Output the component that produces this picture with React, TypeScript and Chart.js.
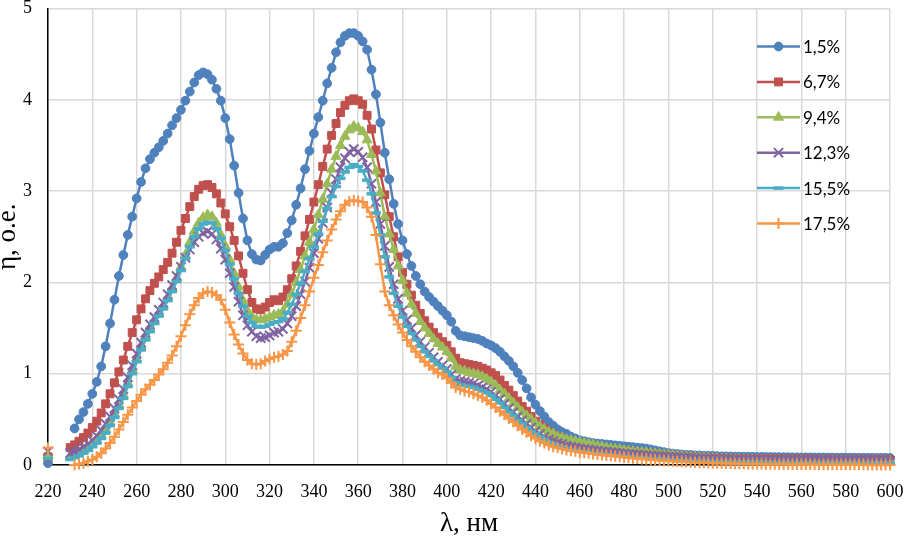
import { useEffect, useRef } from "react";
import { Chart, registerables } from "chart.js";
import { drawPoint } from "chart.js/helpers";

Chart.register(...registerables);

// wavelength, nm (step 2 nm)
const WAVELENGTHS = [
  220, 222, 224, 226, 228, 230, 232, 234, 236, 238,
  240, 242, 244, 246, 248, 250, 252, 254, 256, 258,
  260, 262, 264, 266, 268, 270, 272, 274, 276, 278,
  280, 282, 284, 286, 288, 290, 292, 294, 296, 298,
  300, 302, 304, 306, 308, 310, 312, 314, 316, 318,
  320, 322, 324, 326, 328, 330, 332, 334, 336, 338,
  340, 342, 344, 346, 348, 350, 352, 354, 356, 358,
  360, 362, 364, 366, 368, 370, 372, 374, 376, 378,
  380, 382, 384, 386, 388, 390, 392, 394, 396, 398,
  400, 402, 404, 406, 408, 410, 412, 414, 416, 418,
  420, 422, 424, 426, 428, 430, 432, 434, 436, 438,
  440, 442, 444, 446, 448, 450, 452, 454, 456, 458,
  460, 462, 464, 466, 468, 470, 472, 474, 476, 478,
  480, 482, 484, 486, 488, 490, 492, 494, 496, 498,
  500, 502, 504, 506, 508, 510, 512, 514, 516, 518,
  520, 522, 524, 526, 528, 530, 532, 534, 536, 538,
  540, 542, 544, 546, 548, 550, 552, 554, 556, 558,
  560, 562, 564, 566, 568, 570, 572, 574, 576, 578,
  580, 582, 584, 586, 588, 590, 592, 594, 596, 598,
  600,
];

const ETA_1_5 = [
  0.02, null, null, null, null, null, 0.40, 0.50, 0.58, 0.67,
  0.78, 0.91, 1.08, 1.30, 1.55, 1.81, 2.07, 2.30, 2.52, 2.72,
  2.92, 3.10, 3.25, 3.35, 3.42, 3.48, 3.55, 3.63, 3.72, 3.80,
  3.89, 3.99, 4.09, 4.19, 4.27, 4.30, 4.28, 4.22, 4.12, 3.99,
  3.80, 3.57, 3.28, 2.98, 2.70, 2.46, 2.31, 2.25, 2.24, 2.30,
  2.36, 2.39, 2.39, 2.43, 2.54, 2.68, 2.85, 3.03, 3.24, 3.44,
  3.63, 3.81, 3.99, 4.18, 4.35, 4.52, 4.63, 4.70, 4.73, 4.73,
  4.70, 4.64, 4.55, 4.33, 4.06, 3.75, 3.42, 3.13, 2.86, 2.64,
  2.46, 2.31, 2.18, 2.07, 1.98, 1.90, 1.84, 1.79, 1.74, 1.69,
  1.64, 1.57, 1.47, 1.42, 1.41, 1.40, 1.39, 1.38, 1.36, 1.33,
  1.31, 1.28, 1.24, 1.19, 1.14, 1.08, 1.01, 0.93, 0.84, 0.74,
  0.66, 0.59, 0.53, 0.47, 0.43, 0.39, 0.36, 0.34, 0.31, 0.29,
  0.27, 0.26, 0.25, 0.24, 0.235, 0.23, 0.225, 0.22, 0.215, 0.21,
  0.205, 0.2, 0.195, 0.19, 0.185, 0.18, 0.17, 0.16, 0.15, 0.14,
  0.13, 0.125, 0.12, 0.115, 0.11, 0.11, 0.105, 0.105, 0.1, 0.1,
  0.1, 0.097, 0.095, 0.094, 0.093, 0.092, 0.091, 0.09, 0.09, 0.089,
  0.088, 0.088, 0.087, 0.087, 0.086, 0.086, 0.085, 0.085, 0.084, 0.084,
  0.083, 0.083, 0.083, 0.082, 0.082, 0.082, 0.081, 0.081, 0.081, 0.08,
  0.08, 0.08, 0.08, 0.079, 0.079, 0.079, 0.078, 0.078, 0.078, 0.078,
  0.077,
];

const ETA_6_7 = [
  0.09, null, null, null, null, 0.19, 0.22, 0.26, 0.30, 0.35,
  0.41, 0.48, 0.57, 0.67, 0.78, 0.90, 1.02, 1.15, 1.30, 1.45,
  1.59, 1.71, 1.82, 1.91, 1.99, 2.06, 2.14, 2.22, 2.32, 2.44,
  2.57, 2.70, 2.83, 2.94, 3.02, 3.06, 3.07, 3.04, 2.97, 2.87,
  2.75, 2.61, 2.46, 2.29, 2.10, 1.92, 1.78, 1.71, 1.70, 1.73,
  1.78, 1.81, 1.80, 1.84, 1.92, 2.04, 2.18, 2.34, 2.51, 2.69,
  2.88, 3.07, 3.27, 3.46, 3.61, 3.74, 3.86, 3.94, 3.99, 4.01,
  3.99, 3.95, 3.83, 3.68, 3.45, 3.20, 2.96, 2.72, 2.50, 2.28,
  2.11, 1.98, 1.86, 1.75, 1.66, 1.58, 1.51, 1.45, 1.40, 1.35,
  1.31, 1.24, 1.17, 1.12, 1.11, 1.10, 1.09, 1.08, 1.06, 1.04,
  1.01, 0.98, 0.93, 0.87, 0.82, 0.76, 0.70, 0.64, 0.59, 0.53,
  0.48, 0.44, 0.40, 0.36, 0.33, 0.31, 0.28, 0.27, 0.25, 0.24,
  0.23, 0.22, 0.21, 0.2, 0.19, 0.185, 0.18, 0.17, 0.165, 0.16,
  0.155, 0.15, 0.145, 0.14, 0.135, 0.13, 0.125, 0.12, 0.115, 0.11,
  0.105, 0.1, 0.097, 0.094, 0.091, 0.088, 0.085, 0.083, 0.081, 0.079,
  0.077, 0.076, 0.075, 0.074, 0.073, 0.072, 0.071, 0.07, 0.07, 0.069,
  0.068, 0.068, 0.067, 0.067, 0.066, 0.066, 0.065, 0.065, 0.064, 0.064,
  0.063, 0.063, 0.063, 0.062, 0.062, 0.062, 0.061, 0.061, 0.061, 0.06,
  0.06, 0.06, 0.06, 0.059, 0.059, 0.059, 0.058, 0.058, 0.058, 0.058,
  0.057,
];

const ETA_9_4 = [
  0.11, null, null, null, null, 0.09, 0.11, 0.13, 0.16, 0.19,
  0.23, 0.27, 0.33, 0.39, 0.47, 0.56, 0.66, 0.77, 0.90, 1.04,
  1.17, 1.30, 1.41, 1.50, 1.58, 1.66, 1.74, 1.83, 1.94, 2.05,
  2.17, 2.30, 2.44, 2.56, 2.65, 2.71, 2.74, 2.72, 2.65, 2.52,
  2.40, 2.25, 2.10, 1.95, 1.80, 1.69, 1.62, 1.59, 1.59, 1.60,
  1.62, 1.64, 1.65, 1.68, 1.76, 1.87, 2.00, 2.14, 2.29, 2.44,
  2.58, 2.74, 2.91, 3.08, 3.24, 3.38, 3.50, 3.60, 3.67, 3.71,
  3.69, 3.65, 3.56, 3.40, 3.22, 2.98, 2.72, 2.53, 2.36, 2.18,
  2.02, 1.88, 1.76, 1.66, 1.57, 1.50, 1.44, 1.38, 1.33, 1.29,
  1.24, 1.17, 1.08, 1.04, 1.03, 1.01, 1.00, 0.99, 0.97, 0.94,
  0.91, 0.87, 0.82, 0.78, 0.73, 0.68, 0.63, 0.58, 0.54, 0.50,
  0.46, 0.42, 0.39, 0.36, 0.34, 0.31, 0.30, 0.28, 0.27, 0.26,
  0.25, 0.24, 0.23, 0.22, 0.21, 0.2, 0.19, 0.18, 0.175, 0.17,
  0.16, 0.155, 0.15, 0.145, 0.14, 0.135, 0.13, 0.125, 0.12, 0.115,
  0.11, 0.105, 0.1, 0.096, 0.092, 0.088, 0.085, 0.082, 0.079, 0.076,
  0.073, 0.071, 0.069, 0.067, 0.065, 0.063, 0.061, 0.06, 0.058, 0.057,
  0.056, 0.055, 0.054, 0.053, 0.052, 0.051, 0.05, 0.05, 0.049, 0.048,
  0.048, 0.047, 0.047, 0.046, 0.046, 0.045, 0.045, 0.044, 0.044, 0.043,
  0.043, 0.043, 0.042, 0.042, 0.042, 0.041, 0.041, 0.041, 0.04, 0.04,
  0.04,
];

const ETA_12_3 = [
  0.15, null, null, null, null, 0.13, 0.15, 0.17, 0.20, 0.23,
  0.27, 0.32, 0.38, 0.45, 0.53, 0.62, 0.72, 0.83, 0.96, 1.09,
  1.22, 1.34, 1.45, 1.54, 1.62, 1.70, 1.78, 1.87, 1.97, 2.07,
  2.17, 2.27, 2.36, 2.44, 2.50, 2.54, 2.56, 2.53, 2.47, 2.37,
  2.25, 2.10, 1.95, 1.79, 1.64, 1.53, 1.46, 1.41, 1.39, 1.40,
  1.42, 1.45, 1.46, 1.49, 1.55, 1.63, 1.74, 1.87, 2.01, 2.16,
  2.32, 2.48, 2.65, 2.82, 2.98, 3.13, 3.26, 3.36, 3.43, 3.46,
  3.43, 3.37, 3.26, 3.08, 2.88, 2.64, 2.40, 2.17, 1.98, 1.82,
  1.69, 1.59, 1.50, 1.42, 1.35, 1.29, 1.23, 1.18, 1.13, 1.09,
  1.05, 0.99, 0.94, 0.92, 0.91, 0.90, 0.89, 0.87, 0.85, 0.83,
  0.80, 0.76, 0.72, 0.67, 0.62, 0.58, 0.53, 0.49, 0.45, 0.41,
  0.37, 0.34, 0.31, 0.28, 0.26, 0.24, 0.23, 0.21, 0.20, 0.19,
  0.18, 0.175, 0.17, 0.16, 0.155, 0.15, 0.145, 0.14, 0.135, 0.13,
  0.125, 0.12, 0.117, 0.114, 0.11, 0.107, 0.104, 0.1, 0.097, 0.094,
  0.09, 0.087, 0.084, 0.081, 0.078, 0.075, 0.073, 0.071, 0.069, 0.067,
  0.065, 0.064, 0.063, 0.062, 0.061, 0.06, 0.059, 0.058, 0.058, 0.057,
  0.056, 0.056, 0.055, 0.055, 0.054, 0.054, 0.053, 0.053, 0.053, 0.052,
  0.052, 0.052, 0.051, 0.051, 0.051, 0.05, 0.05, 0.05, 0.05, 0.049,
  0.049, 0.049, 0.049, 0.048, 0.048, 0.048, 0.048, 0.047, 0.047, 0.047,
  0.047,
];

const ETA_15_5 = [
  0.07, null, null, null, null, 0.06, 0.08, 0.10, 0.13, 0.16,
  0.20, 0.24, 0.29, 0.35, 0.43, 0.52, 0.62, 0.73, 0.86, 1.00,
  1.13, 1.26, 1.37, 1.46, 1.55, 1.63, 1.71, 1.80, 1.90, 2.01,
  2.13, 2.26, 2.39, 2.50, 2.59, 2.64, 2.66, 2.65, 2.59, 2.48,
  2.35, 2.20, 2.04, 1.88, 1.74, 1.63, 1.56, 1.52, 1.51, 1.52,
  1.54, 1.56, 1.57, 1.60, 1.67, 1.76, 1.87, 1.99, 2.12, 2.26,
  2.39, 2.53, 2.67, 2.81, 2.94, 3.05, 3.14, 3.21, 3.26, 3.29,
  3.27, 3.22, 3.12, 2.97, 2.76, 2.52, 2.28, 2.06, 1.88, 1.74,
  1.62, 1.52, 1.44, 1.37, 1.30, 1.24, 1.19, 1.14, 1.10, 1.06,
  1.02, 0.96, 0.90, 0.88, 0.87, 0.86, 0.85, 0.83, 0.81, 0.79,
  0.76, 0.72, 0.68, 0.63, 0.58, 0.54, 0.49, 0.45, 0.41, 0.37,
  0.34, 0.31, 0.28, 0.25, 0.23, 0.21, 0.2, 0.18, 0.17, 0.16,
  0.15, 0.145, 0.14, 0.13, 0.125, 0.12, 0.115, 0.11, 0.105, 0.1,
  0.095, 0.09, 0.086, 0.082, 0.078, 0.074, 0.07, 0.067, 0.064, 0.061,
  0.058, 0.055, 0.052, 0.05, 0.048, 0.046, 0.044, 0.042, 0.04, 0.038,
  0.037, 0.036, 0.035, 0.034, 0.033, 0.032, 0.031, 0.03, 0.03, 0.029,
  0.028, 0.028, 0.027, 0.027, 0.026, 0.026, 0.025, 0.025, 0.025, 0.024,
  0.024, 0.024, 0.023, 0.023, 0.023, 0.022, 0.022, 0.022, 0.022, 0.021,
  0.021, 0.021, 0.021, 0.02, 0.02, 0.02, 0.02, 0.02, 0.019, 0.019,
  0.019,
];

const ETA_17_5 = [
  0.19, null, null, null, null, null, 0.00, 0.01, 0.02, 0.04,
  0.06, 0.09, 0.13, 0.18, 0.24, 0.31, 0.39, 0.47, 0.55, 0.63,
  0.70, 0.77, 0.83, 0.88, 0.93, 0.99, 1.05, 1.12, 1.20, 1.30,
  1.41, 1.53, 1.65, 1.75, 1.83, 1.88, 1.90, 1.89, 1.86, 1.81,
  1.70, 1.56, 1.43, 1.32, 1.22, 1.15, 1.11, 1.10, 1.11, 1.14,
  1.16, 1.18, 1.19, 1.21, 1.25, 1.35, 1.47, 1.61, 1.75, 1.90,
  2.05, 2.19, 2.33, 2.46, 2.58, 2.69, 2.78, 2.85, 2.89, 2.90,
  2.89, 2.88, 2.82, 2.72, 2.52, 2.20, 1.90, 1.75, 1.64, 1.54,
  1.45, 1.37, 1.30, 1.24, 1.18, 1.13, 1.09, 1.05, 1.01, 0.99,
  0.95, 0.90, 0.85, 0.83, 0.81, 0.80, 0.78, 0.76, 0.74, 0.71,
  0.67, 0.63, 0.59, 0.55, 0.51, 0.47, 0.43, 0.39, 0.36, 0.32,
  0.29, 0.26, 0.24, 0.22, 0.20, 0.19, 0.175, 0.165, 0.155, 0.15,
  0.14, 0.135, 0.13, 0.12, 0.115, 0.11, 0.105, 0.1, 0.095, 0.09,
  0.085, 0.08, 0.075, 0.07, 0.066, 0.062, 0.058, 0.054, 0.05, 0.047,
  0.044, 0.041, 0.038, 0.035, 0.032, 0.03, 0.028, 0.026, 0.024, 0.022,
  0.02, 0.019, 0.018, 0.017, 0.016, 0.015, 0.014, 0.013, 0.012, 0.011,
  0.01, 0.01, 0.009, 0.009, 0.008, 0.008, 0.007, 0.007, 0.006, 0.006,
  0.005, 0.005, 0.005, 0.004, 0.004, 0.004, 0.003, 0.003, 0.003, 0.003,
  0.002, 0.002, 0.002, 0.002, 0.002, 0.001, 0.001, 0.001, 0.001, 0.001,
  0.001,
];

const SERIES_LABELS = ["1,5%", "6,7%", "9,4%", "12,3%", "15,5%", "17,5%"];
const SERIES_VALUES = [ETA_1_5, ETA_6_7, ETA_9_4, ETA_12_3, ETA_15_5, ETA_17_5];

const STYLES = [
  { color: "#4F81BD", pointStyle: "circle", radius: 4.4, pointBorderWidth: 1 },
  { color: "#C0504D", pointStyle: "rect", radius: 5.6, pointBorderWidth: 1 },
  { color: "#9BBB59", pointStyle: "triangle", radius: 5.8, pointBorderWidth: 1 },
  { color: "#8064A2", pointStyle: "crossRot", radius: 6.5, pointBorderWidth: 2 },
  { color: "#4BACC6", pointStyle: "line", radius: 5, pointBorderWidth: 3.5 },
  { color: "#F79646", pointStyle: "cross", radius: 5.5, pointBorderWidth: 2 },
];

const SERIF = "'Liberation Serif', 'Times New Roman', serif";

// legend drawn inside the plot, on the right, like the Excel original
const insideLegend = {
  id: "insideLegend",
  afterDatasetsDraw(chart: any) {
    const { ctx, chartArea } = chart;
    ctx.save();
    chart.data.datasets.forEach((ds: any, i: number) => {
      const y = chartArea.top + 38 + i * 35.4;
      const x0 = chartArea.right - 133;
      const x1 = chartArea.right - 90;
      ctx.strokeStyle = ds.borderColor;
      ctx.lineWidth = ds.borderWidth;
      ctx.beginPath();
      ctx.moveTo(x0, y);
      ctx.lineTo(x1, y);
      ctx.stroke();
      ctx.fillStyle = ds.pointBackgroundColor;
      ctx.strokeStyle = ds.pointBorderColor;
      ctx.lineWidth = ds.pointBorderWidth;
      drawPoint(
        ctx,
        { pointStyle: ds.pointStyle, radius: ds.pointRadius, rotation: 0, borderWidth: ds.pointBorderWidth },
        (x0 + x1) / 2,
        y
      );
      ctx.fillStyle = "#000";
      ctx.font = "17px Lato, 'Noto Sans', sans-serif";
      ctx.textAlign = "left";
      ctx.textBaseline = "middle";
      ctx.fillText(ds.label, x1 + 3, y + 1);
    });
    ctx.restore();
  },
};

export default function App() {
  const canvasRef = useRef<HTMLCanvasElement>(null);
  const chartRef = useRef<any>(null);

  useEffect(() => {
    if (!canvasRef.current) return;
    chartRef.current?.destroy();

    const datasets = SERIES_VALUES.map((values, i) => {
      const s = STYLES[i];
      return {
        label: SERIES_LABELS[i],
        data: WAVELENGTHS.map((x, j) => ({ x, y: values[j] })),
        borderColor: s.color,
        backgroundColor: s.color,
        borderWidth: 2.5,
        pointStyle: s.pointStyle,
        pointRadius: s.radius,
        pointHoverRadius: s.radius,
        pointBackgroundColor: s.color,
        pointBorderColor: s.color,
        pointBorderWidth: s.pointBorderWidth,
        tension: 0,
        spanGaps: false,
        clip: false,
        order: SERIES_VALUES.length - 1 - i,
      };
    });

    chartRef.current = new Chart(canvasRef.current, {
      type: "line",
      data: { datasets },
      options: {
        responsive: true,
        maintainAspectRatio: false,
        animation: false,
        layout: { padding: { top: 7, right: 16, left: 0, bottom: 0 } },
        plugins: { legend: { display: false }, tooltip: { enabled: false } },
        scales: {
          x: {
            type: "linear",
            min: 220,
            max: 600,
            afterFit: (s: any) => {
              s.height = 72;
              s.paddingLeft = 0;
              s.paddingRight = 0;
            },
            ticks: {
              stepSize: 20,
              color: "#000",
              padding: 16,
              maxRotation: 0,
              font: { family: SERIF, size: 18 },
            },
            grid: { color: "#D9D9D9", lineWidth: 1.5, drawTicks: false },
            border: { color: "#000", width: 1.5 },
            title: {
              display: true,
              text: "λ, нм",
              color: "#000",
              font: { family: SERIF, size: 27, lineHeight: 1 },
              padding: { top: 1, bottom: 0 },
            },
          },
          y: {
            min: 0,
            max: 5,
            afterFit: (s: any) => {
              s.width = 48;
              s.paddingTop = 0;
              s.paddingBottom = 0;
            },
            ticks: {
              stepSize: 1,
              color: "#000",
              padding: 16,
              font: { family: SERIF, size: 18 },
            },
            grid: { color: "#D9D9D9", lineWidth: 1.5, drawTicks: false },
            border: { color: "#000", width: 1.5 },
            title: {
              display: true,
              text: "η, о.е.",
              color: "#000",
              font: { family: SERIF, size: 27, lineHeight: 0.6 },
              padding: { top: 0, bottom: 0 },
            },
          },
        },
      },
      plugins: [insideLegend],
    } as any);

    return () => {
      chartRef.current?.destroy();
      chartRef.current = null;
    };
  }, []);

  return (
    <div style={{ position: "absolute", left: 0, top: 0, width: 906, height: 537, background: "#fff" }}>
      <canvas ref={canvasRef} />
    </div>
  );
}
